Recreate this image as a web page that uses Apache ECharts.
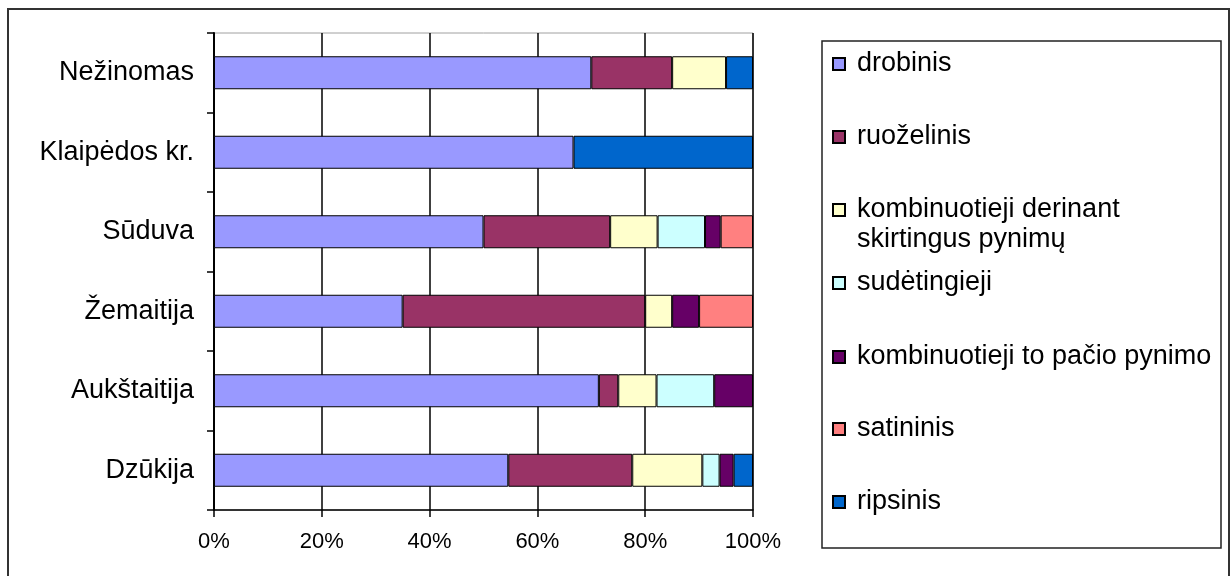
<!DOCTYPE html>
<html>
<head>
<meta charset="utf-8">
<script src="https://cdn.jsdelivr.net/npm/echarts@6/dist/echarts.min.js"></script>
<style>
  html, body { margin: 0; padding: 0; background: #fff; }
  #chart { width: 1232px; height: 576px; }
</style>
</head>
<body>
<div id="chart"></div>
<script>
// Regions, listed bottom to top as they appear on the category axis
const categories = ['Dzūkija', 'Aukštaitija', 'Žemaitija', 'Sūduva', 'Klaipėdos kr.', 'Nežinomas'];

// Share of each weave type per region, %
const drobinis        = [54.6, 71.4, 35, 50.0, 66.7, 70];
const ruozelinis      = [23.0,  3.6, 45, 23.5,  0,   15];
const kombDerinant    = [13.0,  7.1,  5,  8.8,  0,   10];
const sudetingieji    = [ 3.2, 10.7,  0,  8.8,  0,    0];
const kombToPacio     = [ 2.6,  7.2,  5,  2.9,  0,    0];
const satininis       = [ 0,    0,   10,  6.0,  0,    0];
const ripsinis        = [ 3.6,  0,    0,  0,   33.3,  5];

const xTicks = [0, 20, 40, 60, 80, 100];

const seriesDefs = [
  { name: 'drobinis', data: drobinis, color: '#9999FF' },
  { name: 'ruoželinis', data: ruozelinis, color: '#993366' },
  { name: 'kombinuotieji derinant skirtingus pynimų', data: kombDerinant, color: '#FFFFCC' },
  { name: 'sudėtingieji', data: sudetingieji, color: '#CCFFFF' },
  { name: 'kombinuotieji to pačio pynimo', data: kombToPacio, color: '#660066' },
  { name: 'satininis', data: satininis, color: '#FF8080' },
  { name: 'ripsinis', data: ripsinis, color: '#0066CC' }
];

const FONT = "'Liberation Sans', Arial, sans-serif";
const LEGEND_LINE = 30;

// Legend rows: vertical centre of each entry's marker
const legendCenters = [64, 137, 210, 283, 357, 429, 502];

// The long entry wraps onto a second line; a leading empty line keeps the
// marker level with the first line of text.
const legends = seriesDefs.map((s, i) => {
  const twoLine = s.name.indexOf('skirtingus') >= 0;
  const lines = twoLine ? 3 : 1;
  return {
    data: [s.name],
    orient: 'vertical',
    left: 832,
    top: legendCenters[i] - (lines * LEGEND_LINE) / 2,
    padding: 0,
    itemWidth: 12,
    itemHeight: 12,
    icon: 'rect',
    selectedMode: false,
    formatter: twoLine ? (n) => ' \n' + n.replace(' skirtingus', '\nskirtingus') : undefined,
    textStyle: {
      fontFamily: FONT,
      fontSize: 27,
      color: '#000',
      lineHeight: LEGEND_LINE,
      padding: [0, 0, 0, 7]
    }
  };
});

const chart = echarts.init(document.getElementById('chart'), null, { renderer: 'canvas' });

chart.setOption({
  animation: false,
  backgroundColor: '#fff',
  textStyle: { fontFamily: FONT },
  grid: {
    left: 214, right: 1232 - 753, top: 33, bottom: 576 - 510,
    show: true, borderColor: '#a0a0a0', borderWidth: 1, backgroundColor: 'transparent'
  },
  legend: legends,
  xAxis: {
    type: 'value',
    min: xTicks[0],
    max: xTicks[xTicks.length - 1],
    interval: xTicks[1] - xTicks[0],
    axisLine: { show: true, lineStyle: { color: '#000', width: 1.5 } },
    axisTick: { show: true, length: 7, lineStyle: { color: '#000', width: 1.5 } },
    splitLine: { show: true, lineStyle: { color: '#000', width: 1.5 } },
    axisLabel: {
      formatter: '{value}%', fontSize: 22, color: '#000', margin: 21, fontFamily: FONT
    }
  },
  yAxis: {
    type: 'category',
    data: categories,
    axisLine: { show: true, lineStyle: { color: '#000', width: 2 } },
    axisTick: { show: true, length: 7, lineStyle: { color: '#000', width: 1.5 } },
    axisLabel: { fontSize: 27, color: '#000', margin: 20, fontFamily: FONT },
    splitLine: { show: false }
  },
  series: seriesDefs.map(s => ({
    name: s.name,
    type: 'bar',
    stack: 'total',
    barWidth: 33,
    data: s.data.map(v => (v === 0 ? '-' : v)),
    itemStyle: { color: s.color, borderColor: '#000', borderWidth: 1 }
  })),
  graphic: [
    {
      type: 'rect',
      shape: { x: 8, y: 9, width: 1221, height: 600 },
      style: { fill: 'none', stroke: '#333', lineWidth: 2 },
      silent: true
    },
    {
      type: 'rect',
      shape: { x: 822, y: 41, width: 399, height: 507 },
      style: { fill: 'none', stroke: '#222', lineWidth: 1.5 },
      silent: true
    }
  ]
});
</script>
</body>
</html>
